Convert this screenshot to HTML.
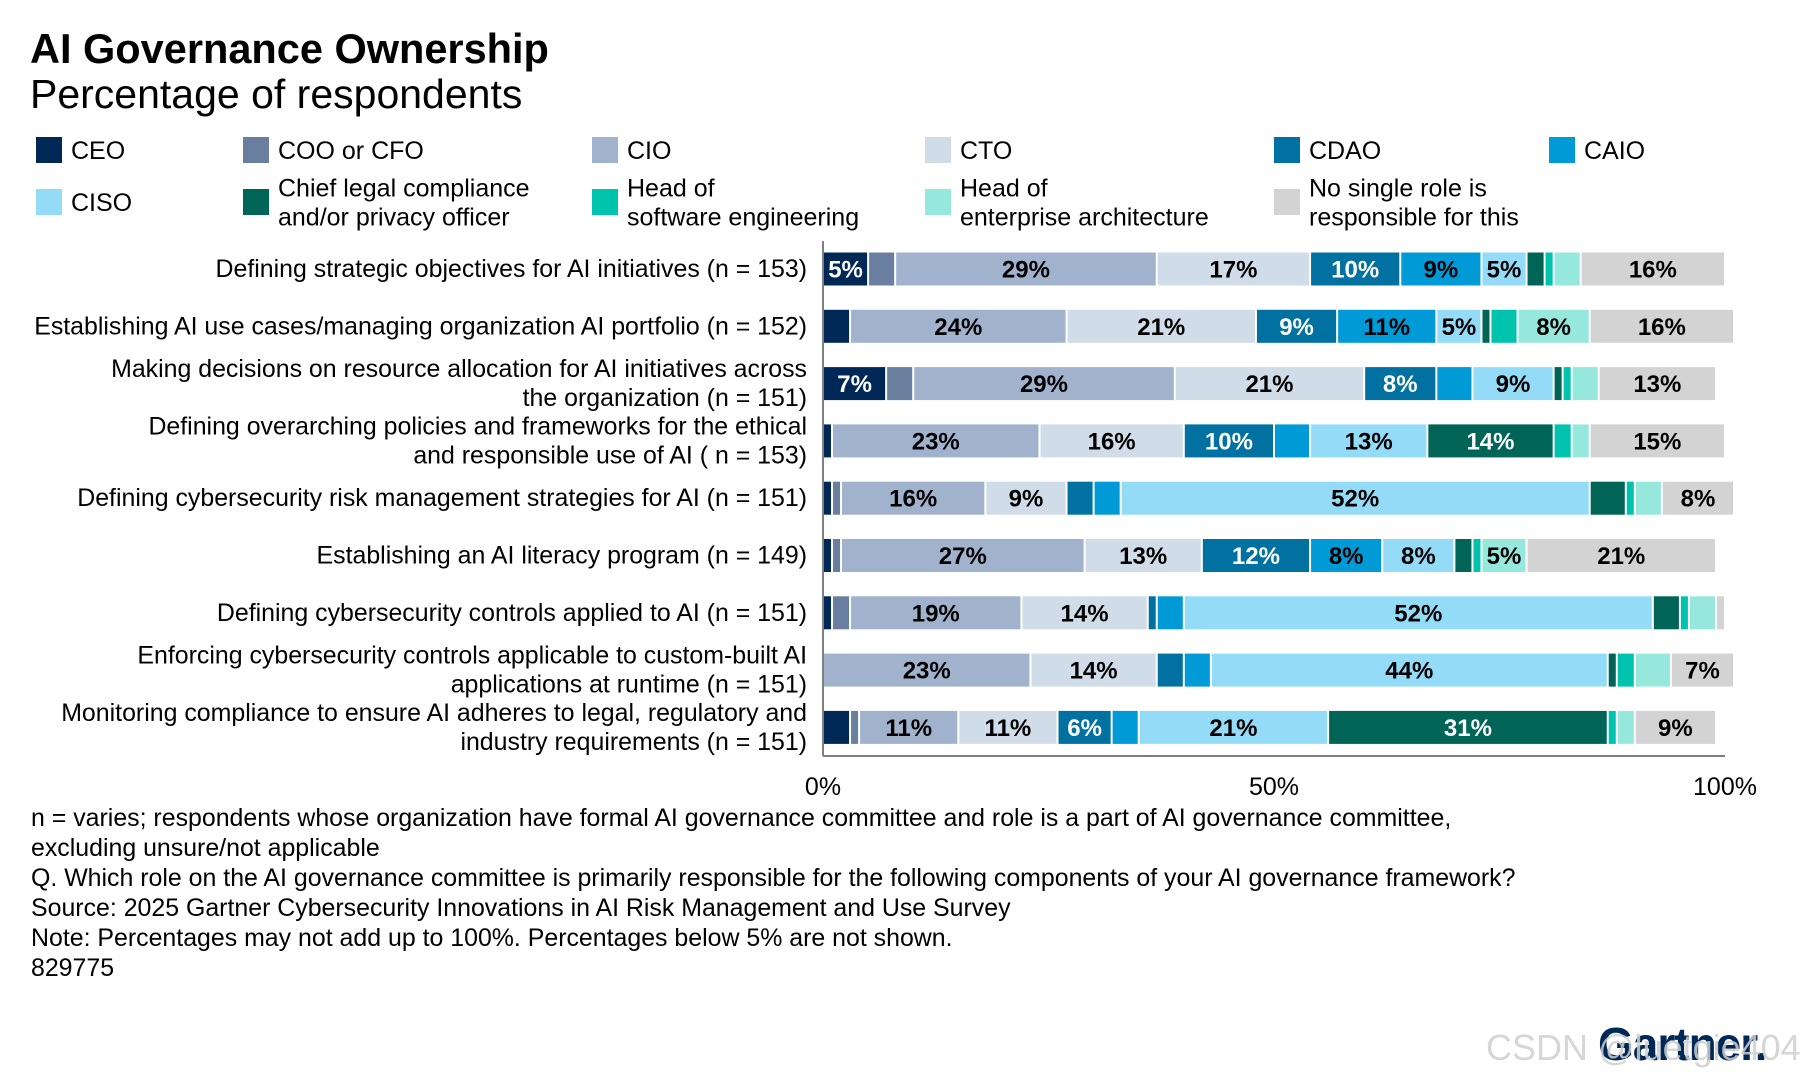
<!DOCTYPE html>
<html><head><meta charset="utf-8"><style>
html,body{margin:0;padding:0;background:#fff}
svg{display:block;font-family:"Liberation Sans",Arial,sans-serif}
</style></head><body>
<svg id="chart" width="1800" height="1079" viewBox="0 0 1800 1079">
<text x="30" y="63" font-size="41.5" font-weight="bold" fill="#000">AI Governance Ownership</text>
<text x="30" y="108" font-size="41" fill="#000">Percentage of respondents</text>
<g id="legend"></g>
<g id="bars"></g>
<g id="cats"></g>
<g id="axis"></g>
<g font-size="24.9" fill="#000">
<text x="31" y="826">n = varies; respondents whose organization have formal AI governance committee and role is a part of AI governance committee,</text>
<text x="31" y="856">excluding unsure/not applicable</text>
<text x="31" y="886">Q. Which role on the AI governance committee is primarily responsible for the following components of your AI governance framework?</text>
<text x="31" y="916">Source: 2025 Gartner Cybersecurity Innovations in AI Risk Management and Use Survey</text>
<text x="31" y="946">Note: Percentages may not add up to 100%. Percentages below 5% are not shown.</text>
<text x="31" y="976">829775</text>
</g>
<text x="1598" y="1060" font-size="46" font-weight="bold" fill="#002856" letter-spacing="-1">Gartner.</text>
<text x="1486" y="1060" font-size="36" fill="#cfcfcf" fill-opacity="0.85">CSDN @luetgie404</text>
</svg>
<script>
const roles = ["CEO","COO or CFO","CIO","CTO","CDAO","CAIO","CISO","Chief legal compliance|and/or privacy officer","Head of|software engineering","Head of|enterprise architecture","No single role is|responsible for this"];
const colors = ["#002856","#6a7fa0","#a1b3cc","#d0dde8","#0071a0","#009ad7","#93dbf7","#006456","#00c3ae","#96e8dc","#d3d3d3"];
const labelWhite = [true,false,false,false,true,false,false,true,false,false,false];
const categories = [
 "Defining strategic objectives for AI initiatives (n = 153)",
 "Establishing AI use cases/managing organization AI portfolio (n = 152)",
 "Making decisions on resource allocation for AI initiatives across|the organization (n = 151)",
 "Defining overarching policies and frameworks for the ethical|and responsible use of AI ( n = 153)",
 "Defining cybersecurity risk management strategies for AI (n = 151)",
 "Establishing an AI literacy program (n = 149)",
 "Defining cybersecurity controls applied to AI (n = 151)",
 "Enforcing cybersecurity controls applicable to custom-built AI|applications at runtime (n = 151)",
 "Monitoring compliance to ensure AI adheres to legal, regulatory and|industry requirements (n = 151)"
];
const row1 = [5,3,29,17,10,9,5,2,1,3,16];
const row2 = [3,0,24,21,9,11,5,1,3,8,16];
const row3 = [7,3,29,21,8,4,9,1,1,3,13];
const row4 = [1,0,23,16,10,4,13,14,2,2,15];
const row5 = [1,1,16,9,3,3,52,4,1,3,8];
const row6 = [1,1,27,13,12,8,8,2,1,5,21];
const row7 = [1,2,19,14,1,3,52,3,1,3,1];
const row8 = [0,0,23,14,3,3,44,1,2,4,7];
const row9 = [3,1,11,11,6,3,21,31,1,2,9];
const series = [row1,row2,row3,row4,row5,row6,row7,row8,row9];
const ticks = [0,50,100];
const tickLabels = ["0%","50%","100%"];

const NS="http://www.w3.org/2000/svg";
function mk(tag,attrs,parent){const e=document.createElementNS(NS,tag);for(const k in attrs)e.setAttribute(k,attrs[k]);parent.appendChild(e);return e;}
const x0=823, x1=1725;
const xs=v=>x0+(x1-x0)*v/100;
const yc=i=>269+57.3*i;
const barH=33;

const lg=document.getElementById('legend');
const legX=[36,243,592,925,1274,1549];
roles.forEach((r,i)=>{
  const col=i<6?i:i-6, rowI=i<6?0:1;
  const x=legX[col], cy=rowI===0?150:202;
  const g=mk('g',{},lg);
  
  
  mk('rect',{x:x,y:cy-13,width:26,height:26,fill:colors[i]},g);
  const lines=r.split('|');
  lines.forEach((l,j)=>{
    const t=mk('text',{x:x+35,y:cy+9+(lines.length>1?(j-0.5)*29:0),'font-size':25,fill:'#000'},g);
    t.textContent=l;
  });
});

const bg=document.getElementById('bars');
series.forEach((vals,ri)=>{
  let acc=0;const cy=yc(ri);
  vals.forEach((v,si)=>{
    if(v<=0){return;}
    const xa=xs(acc), xb=xs(acc+v);
    const r=mk('rect',{x:xa+1,y:cy-barH/2,width:Math.max(xb-xa-2,0.5),height:barH,fill:colors[si]},bg);
    
    
    if(v>=5){
      const t=mk('text',{x:(xa+xb)/2,y:cy+8.5,'font-size':24,'font-weight':'bold','text-anchor':'middle',fill:labelWhite[si]?'#fff':'#000'},bg);
      
      
      t.textContent=v+'%';
    }
    acc+=v;
  });
});

const cg=document.getElementById('cats');
categories.forEach((c,i)=>{
  const lines=c.split('|');
  lines.forEach((l,j)=>{
    const t=mk('text',{x:807,y:yc(i)+8+(lines.length>1?(j-0.5)*29:0),'font-size':24.9,'text-anchor':'end',fill:'#000'},cg);
    
    
    t.textContent=l;
  });
});

const ag=document.getElementById('axis');
mk('line',{x1:x0,y1:241,x2:x0,y2:756,stroke:'#7f7f7f','stroke-width':2},ag);
mk('line',{x1:x0,y1:756,x2:x1,y2:756,stroke:'#7f7f7f','stroke-width':2},ag);
ticks.forEach((v,i)=>{
  const t=mk('text',{x:xs(v),y:795,'font-size':25,'text-anchor':'middle',fill:'#000'},ag);
  
  
  t.textContent=tickLabels[i];
});
</script>
</body></html>
